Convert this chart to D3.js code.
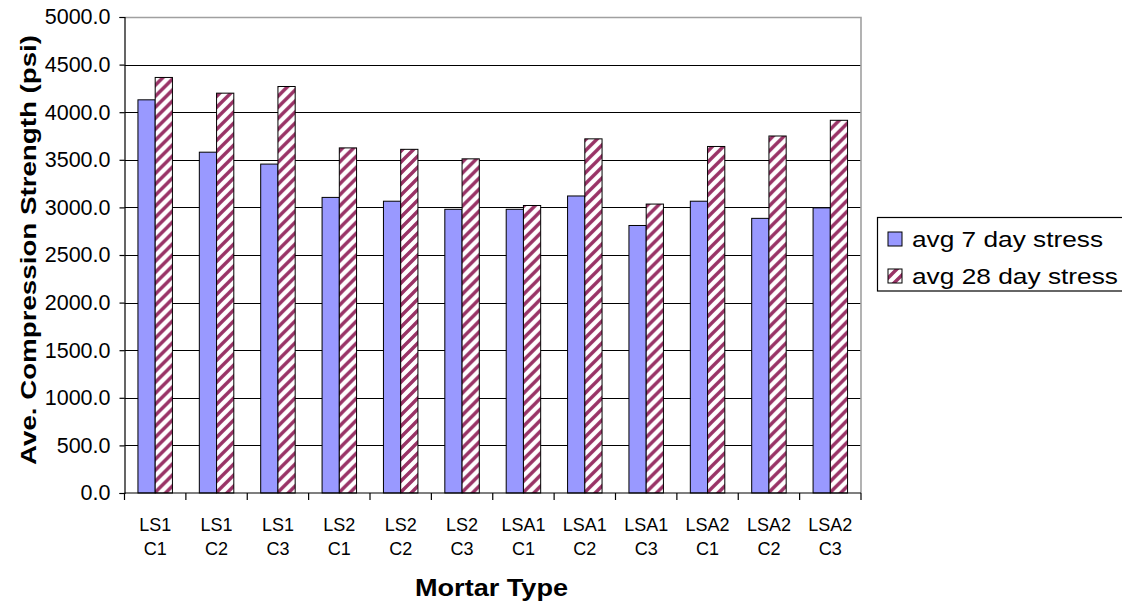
<!DOCTYPE html>
<html>
<head>
<meta charset="utf-8">
<script src="https://cdn.jsdelivr.net/npm/d3@7"></script>
<style>
  body { margin: 0; background: #fff; }
  svg { display: block; font-family: Arial, 'Liberation Sans', sans-serif; }
</style>
</head>
<body>
<svg id="chart"></svg>
<script>
// chart values
const categories = ['LS1 C1', 'LS1 C2', 'LS1 C3', 'LS2 C1', 'LS2 C2', 'LS2 C3',
  'LSA1 C1', 'LSA1 C2', 'LSA1 C3', 'LSA2 C1', 'LSA2 C2', 'LSA2 C3'];
const seriesNames = ['avg 7 day stress', 'avg 28 day stress'];
const day7 = [4130, 3580, 3455, 3105, 3065, 2980, 2980, 3120, 2810, 3065, 2885, 2995];
const day28 = [4365, 4200, 4270, 3625, 3610, 3510, 3020, 3720, 3035, 3640, 3750, 3915];
const yTicks = [0, 500, 1000, 1500, 2000, 2500, 3000, 3500, 4000, 4500, 5000];

class GroupedBarChart {
  constructor(_config) {
    this.config = {
      parentElement: _config.parentElement,
      containerWidth: 1122,
      containerHeight: 603,
      margin: {
        top: 17, right: 261, bottom: 110, left: 124.5,
      },
    };
    this.data = categories.map((c, i) => ({ category: c, values: [day7[i], day28[i]] }));
    this.initVis();
  }

  initVis() {
    const vis = this;
    const m = vis.config.margin;
    vis.width = vis.config.containerWidth - m.left - m.right;
    vis.height = vis.config.containerHeight - m.top - m.bottom;

    vis.svg = d3.select(vis.config.parentElement)
      .attr('width', vis.config.containerWidth)
      .attr('height', vis.config.containerHeight);

    // hatch for the 28 day bars
    const pat = vis.svg.append('defs').append('pattern')
      .attr('id', 'hatch')
      .attr('patternUnits', 'userSpaceOnUse')
      .attr('width', 11)
      .attr('height', 11);
    pat.append('rect').attr('width', 11).attr('height', 11).attr('fill', '#fff');
    pat.append('path')
      .attr('d', 'M0,11 L11,0 M-3,3 L3,-3 M8,14 L14,8')
      .attr('stroke', '#993366')
      .attr('stroke-width', 3.4);

    vis.chart = vis.svg.append('g')
      .attr('transform', `translate(${m.left},${m.top})`);

    vis.xScale = d3.scaleBand()
      .domain(categories)
      .range([0, vis.width])
      .padding(0);

    vis.xSub = d3.scaleBand()
      .domain([0, 1])
      .range([0, vis.xScale.bandwidth()])
      .paddingInner(0)
      .paddingOuter(0.78);

    vis.yScale = d3.scaleLinear()
      .domain([0, 5000])
      .range([vis.height, 0]);

    vis.colors = ['#9999FF', 'url(#hatch)'];

    vis.renderVis();
  }

  renderVis() {
    const vis = this;

    // gridlines
    vis.chart.append('g')
      .selectAll('line')
      .data(yTicks.filter((d) => d > 0 && d < 5000))
      .join('line')
      .attr('x1', 0)
      .attr('x2', vis.width)
      .attr('y1', (d) => Math.round(vis.yScale(d)) + 0.5)
      .attr('y2', (d) => Math.round(vis.yScale(d)) + 0.5)
      .attr('stroke', '#000')
      .attr('stroke-width', 1);

    // plot area border (top + right, gray)
    vis.chart.append('path')
      .attr('d', `M0,0.5 H${vis.width} V${vis.height}`)
      .attr('fill', 'none')
      .attr('stroke', '#a0a0a0')
      .attr('stroke-width', 1.6);

    // bars
    const groups = vis.chart.selectAll('.bar-group')
      .data(vis.data)
      .join('g')
      .attr('class', 'bar-group')
      .attr('transform', (d) => `translate(${vis.xScale(d.category)},0)`);

    groups.selectAll('rect')
      .data((d) => d.values)
      .join('rect')
      .attr('x', (d, i) => vis.xSub(i))
      .attr('width', vis.xSub.bandwidth())
      .attr('y', (d) => vis.yScale(d))
      .attr('height', (d) => vis.height - vis.yScale(d))
      .attr('fill', (d, i) => vis.colors[i])
      .attr('stroke', '#000')
      .attr('stroke-width', 1);

    // y axis
    vis.yAxis = d3.axisLeft(vis.yScale)
      .tickValues(yTicks)
      .tickSize(5)
      .tickPadding(9)
      .tickFormat(d3.format('.1f'));

    vis.chart.append('g')
      .attr('class', 'axis y-axis')
      .call(vis.yAxis)
      .call((g) => g.selectAll('text')
        .attr('font-size', 21.5)
        .attr('font-family', 'Arial, \'Liberation Sans\', sans-serif')
        .attr('fill', '#000'))
      .call((g) => g.selectAll('line, path').attr('stroke', '#000').attr('stroke-width', 1.2));

    // x axis: ticks at category boundaries
    const xAxisG = vis.chart.append('g')
      .attr('class', 'axis x-axis')
      .attr('transform', `translate(0,${vis.height})`);

    xAxisG.append('line')
      .attr('x1', 0)
      .attr('x2', vis.width)
      .attr('stroke', '#000')
      .attr('stroke-width', 1.2);

    const bounds = categories.map((c) => vis.xScale(c)).concat([vis.width]);
    xAxisG.selectAll('.xtick')
      .data(bounds)
      .join('line')
      .attr('class', 'xtick')
      .attr('x1', (d) => d)
      .attr('x2', (d) => d)
      .attr('y1', 0)
      .attr('y2', 7)
      .attr('stroke', '#000')
      .attr('stroke-width', 1.2);

    const labels = xAxisG.selectAll('.xlabel')
      .data(categories)
      .join('text')
      .attr('class', 'xlabel')
      .attr('text-anchor', 'middle')
      .attr('font-size', 18)
      .attr('fill', '#000')
      .attr('transform', (d) => `translate(${vis.xScale(d) + vis.xScale.bandwidth() / 2},0)`);

    labels.selectAll('tspan')
      .data((d) => d.split(' '))
      .join('tspan')
      .attr('x', 0)
      .attr('y', (d, i) => 38 + i * 23.5)
      .text((d) => d);

    // axis titles
    vis.svg.append('text')
      .attr('x', 491.5)
      .attr('y', 596)
      .attr('text-anchor', 'middle')
      .attr('font-size', 23)
      .attr('font-weight', 'bold')
      .attr('textLength', 153)
      .attr('lengthAdjust', 'spacingAndGlyphs')
      .text('Mortar Type');

    vis.svg.append('text')
      .attr('transform', 'translate(36,250) rotate(-90)')
      .attr('text-anchor', 'middle')
      .attr('font-size', 22)
      .attr('font-weight', 'bold')
      .attr('textLength', 430)
      .attr('lengthAdjust', 'spacingAndGlyphs')
      .text('Ave. Compression Strength (psi)');

    vis.renderLegend();
  }

  renderLegend() {
    const vis = this;
    const legend = vis.svg.append('g')
      .attr('class', 'legendArea');

    legend.append('rect')
      .attr('x', 877.5)
      .attr('y', 217.5)
      .attr('width', 260)
      .attr('height', 73.5)
      .attr('fill', '#fff')
      .attr('stroke', '#000')
      .attr('stroke-width', 1.2);

    const rowY = [239, 276];
    const textLen = [191, 206];

    legend.selectAll('.legend-swatch')
      .data(seriesNames)
      .join('rect')
      .attr('class', 'legend-swatch')
      .attr('x', 888)
      .attr('y', (d, i) => rowY[i] - 7)
      .attr('width', 14)
      .attr('height', 14)
      .attr('fill', (d, i) => vis.colors[i])
      .attr('stroke', '#000')
      .attr('stroke-width', 1);

    legend.selectAll('.legend-text')
      .data(seriesNames)
      .join('text')
      .attr('class', 'legend-text')
      .attr('x', 912)
      .attr('y', (d, i) => rowY[i] + 8)
      .attr('font-size', 22)
      .attr('textLength', (d, i) => textLen[i])
      .attr('lengthAdjust', 'spacingAndGlyphs')
      .text((d) => d);
  }
}

// eslint-disable-next-line no-unused-vars
const chart = new GroupedBarChart({ parentElement: '#chart' });
</script>
</body>
</html>
